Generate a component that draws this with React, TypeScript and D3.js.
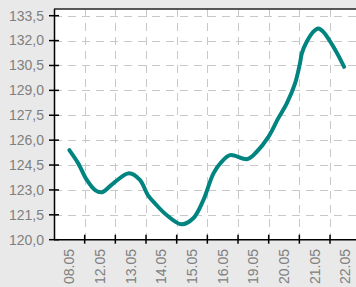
import { useEffect, useRef } from "react";
import * as d3 from "d3";

// Category labels along the x axis
const dates = ["08.05", "12.05", "13.05", "14.05", "15.05", "16.05", "19.05", "20.05", "21.05", "22.05"];

// Y axis tick values
const yTicks = [120, 121.5, 123, 124.5, 126, 127.5, 129, 130.5, 132, 133.5];

// Series positions (in category index units) and values
const positions = [0, 0.29, 0.57, 0.84, 1.06, 1.49, 1.95, 2.3, 2.56, 2.79, 3.17, 3.66, 4.04, 4.37, 4.7, 4.97, 5.24, 5.81, 6.11, 6.49, 6.81, 7.09, 7.36, 7.52, 7.58, 7.74, 7.95, 8.12, 8.28, 8.61, 8.96];
const values = [125.4, 124.6, 123.6, 122.99, 122.86, 123.49, 124.0, 123.6, 122.69, 122.19, 121.49, 120.93, 121.29, 122.39, 124.0, 124.7, 125.1, 124.86, 125.3, 126.2, 127.31, 128.22, 129.42, 130.63, 131.23, 131.93, 132.53, 132.73, 132.53, 131.63, 130.42];

function App() {
  const ref = useRef<HTMLDivElement>(null);

  useEffect(() => {
    const width = 356;
    const height = 287;
    const margin = { left: 54, top: 9, bottom: 239.7 };
    const plotRight = 54 + 30.67 * dates.length;

    const x = d3
      .scaleBand()
      .domain(dates)
      .range([margin.left, plotRight])
      .padding(0);

    const y = d3.scaleLinear([120, 133.5], [margin.bottom, 15.7]);

    const xPos = (p: number) => margin.left + x.step() * (p + 0.5);

    const svg = d3
      .select(ref.current)
      .append("svg")
      .attr("width", width)
      .attr("height", height)
      .style("position", "absolute")
      .style("left", "0px")
      .style("top", "0px")
      .style("font-family", "'Liberation Sans', Arial, sans-serif");

    svg.append("rect").attr("width", width).attr("height", height).attr("fill", "#e9e9e9");

    // plot area
    svg
      .append("rect")
      .attr("x", margin.left)
      .attr("y", margin.top)
      .attr("width", plotRight - margin.left)
      .attr("height", margin.bottom - margin.top)
      .attr("fill", "#ffffff");

    // horizontal grid
    svg
      .selectAll("line.hgrid")
      .data(yTicks.slice(1))
      .enter()
      .append("line")
      .attr("x1", margin.left)
      .attr("x2", plotRight)
      .attr("y1", (d) => Math.round(y(d)) + 0.5)
      .attr("y2", (d) => Math.round(y(d)) + 0.5)
      .attr("stroke", "#c8c8c8")
      .attr("stroke-dasharray", "8,6");

    // vertical grid at band boundaries
    const bounds = dates.map((d) => x(d) as number);
    svg
      .selectAll("line.vgrid")
      .data(bounds.slice(1))
      .enter()
      .append("line")
      .attr("x1", (d) => Math.round(d) + 0.5)
      .attr("x2", (d) => Math.round(d) + 0.5)
      .attr("y1", margin.top)
      .attr("y2", margin.bottom)
      .attr("stroke", "#c8c8c8")
      .attr("stroke-dasharray", "8,6");

    // the curve
    const line = d3
      .line<number>()
      .curve(d3.curveCatmullRom.alpha(0.5))
      .x((d, i) => xPos(positions[i]))
      .y((d) => y(d));

    svg
      .append("path")
      .attr("d", line(values))
      .attr("fill", "none")
      .attr("stroke", "#00847f")
      .attr("stroke-width", 4)
      .attr("stroke-linecap", "round")
      .attr("stroke-linejoin", "round");

    // axes lines
    svg
      .append("line")
      .attr("x1", margin.left + 0.5)
      .attr("x2", margin.left + 0.5)
      .attr("y1", margin.top)
      .attr("y2", margin.bottom)
      .attr("stroke", "#000")
      .attr("stroke-width", 1.5);

    svg
      .append("line")
      .attr("x1", margin.left)
      .attr("x2", width)
      .attr("y1", margin.bottom)
      .attr("y2", margin.bottom)
      .attr("stroke", "#000")
      .attr("stroke-width", 1.5);

    svg
      .append("line")
      .attr("x1", margin.left)
      .attr("x2", width)
      .attr("y1", margin.top)
      .attr("y2", margin.top)
      .attr("stroke", "#222")
      .attr("stroke-width", 1.5);

    // y ticks and labels
    svg
      .selectAll("line.ytick")
      .data(yTicks)
      .enter()
      .append("line")
      .attr("x1", margin.left - 5)
      .attr("x2", margin.left + 5)
      .attr("y1", (d) => y(d))
      .attr("y2", (d) => y(d))
      .attr("stroke", "#000")
      .attr("stroke-width", 1.5);

    svg
      .selectAll("text.ylabel")
      .data(yTicks)
      .enter()
      .append("text")
      .attr("x", 44)
      .attr("y", (d) => y(d))
      .attr("dy", "0.35em")
      .attr("text-anchor", "end")
      .attr("font-size", "14px")
      .attr("fill", "#808080")
      .text((d) => d3.format(".1f")(d).replace(".", ","));

    // x ticks and labels
    svg
      .selectAll("line.xtick")
      .data(bounds.slice(1))
      .enter()
      .append("line")
      .attr("x1", (d) => d)
      .attr("x2", (d) => d)
      .attr("y1", margin.bottom - 5)
      .attr("y2", margin.bottom + 4)
      .attr("stroke", "#000")
      .attr("stroke-width", 1.5);

    svg
      .selectAll("text.xlabel")
      .data(dates)
      .enter()
      .append("text")
      .attr("transform", (d) => `translate(${(x(d) as number) + x.bandwidth() / 2},${249}) rotate(-90)`)
      .attr("dy", "0.35em")
      .attr("text-anchor", "end")
      .attr("font-size", "14px")
      .attr("fill", "#808080")
      .text((d) => d);

    return () => {
      d3.select(ref.current).select("svg").remove();
    };
  }, []);

  return <div ref={ref}></div>;
}

export default App;
